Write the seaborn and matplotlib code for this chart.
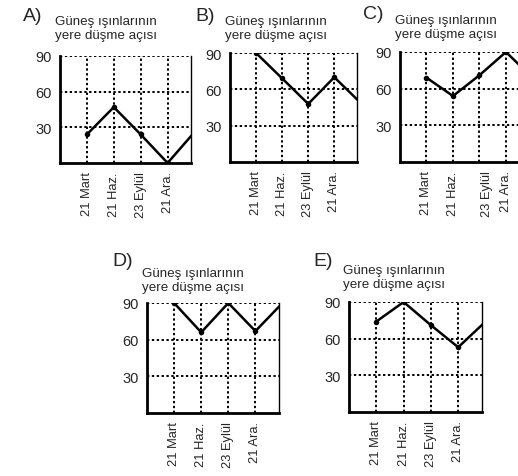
import numpy as np
import pandas as pd
import matplotlib
matplotlib.use("Agg")
import matplotlib.pyplot as plt
import matplotlib.transforms as mtransforms
import seaborn as sns

## Veriler

tarihler = ["21 Mart", "21 Haz.", "23 Eylül", "21 Ara."]
secenekler = ["A)", "B)", "C)", "D)", "E)"]
baslik = "Güneş ışınlarının\nyere düşme açısı"
y_ticks = [30, 60, 90]

# 4 tarih + bir sonraki 21 Mart (grafik kenarında kesilen devam)
aci_a = [24, 47, 24, 0, 26]
aci_b = [90, 69, 48, 70, 49]
aci_c = [69, 54, 71, 90, 69]
aci_d = [90, 66, 90, 67, 90]
aci_e = [74, 90, 71, 53, 74]
acilar = [aci_a, aci_b, aci_c, aci_d, aci_e]

## Yerleşim (piksel: sol, üst, sağ, alt)
W, H = 518, 477
kutular = [(60, 57, 191, 164), (230, 54, 357, 163), (400, 53, 529, 163),
           (147, 304, 279, 414), (349, 303, 482, 413)]
harf_yeri = [(23, 8), (195, 8), (363, 6), (112, 253), (313, 253)]
baslik_yeri = [(55, 16), (225, 16), (395, 15), (142, 268), (343, 265)]

sns.set_style("white")
plt.rcParams['font.family'] = ['Liberation Sans', 'DejaVu Sans']

fig = plt.figure(figsize=(W / 100, H / 100), dpi=100)

for i, harf in enumerate(secenekler):
    l, t, r, b = kutular[i]
    ax = fig.add_axes([l / W, 1 - b / H, (r - l) / W, (b - t) / H])
    df = pd.DataFrame({'x': np.arange(1, 6), 'aci': acilar[i]})

    # noktalı ızgara
    for x in range(1, 5):
        ax.axvline(x, color='black', lw=1.4, ls=(0, (1.2, 1.3)), zorder=1)
    for y in y_ticks:
        ax.axhline(y, color='black', lw=1.4, ls=(0, (1.2, 1.3)), zorder=1)

    sns.lineplot(data=df, x='x', y='aci', ax=ax, color='black', lw=1.8,
                 marker='o', markersize=4, markeredgewidth=0, zorder=3)

    ax.set_xlim(0, 4.87)
    ax.set_ylim(0, 90)
    ax.set_xticks(range(1, 5))
    ax.set_xticklabels(tarihler, rotation=90, fontsize=9.3)
    ax.set_yticks(y_ticks)
    ax.set_yticklabels([str(v) for v in y_ticks], fontsize=10.5)
    ax.tick_params(length=0, pad=6)
    ax.set_xlabel('')
    ax.set_ylabel('')

    ax.spines['top'].set_visible(False)
    ax.spines['left'].set_linewidth(2)
    ax.spines['bottom'].set_linewidth(2)
    ax.spines['right'].set_linewidth(1)
    for s in ax.spines.values():
        s.set_color('black')

    # C şıkkında "23 Eylül" etiketi sağa kaymış
    if harf == "C)":
        lbl = ax.get_xticklabels()[2]
        lbl.set_transform(lbl.get_transform() +
                          mtransforms.ScaledTranslation(8 / 100, 0, fig.dpi_scale_trans))

    hx, hy = harf_yeri[i]
    fig.text(hx / W, 1 - hy / H, harf, fontsize=14, va='top', ha='left')
    bx, by = baslik_yeri[i]
    fig.text(bx / W, 1 - by / H, baslik, fontsize=9.6, va='top', ha='left',
             linespacing=1.2)

plt.savefig('out.png', dpi=100)
